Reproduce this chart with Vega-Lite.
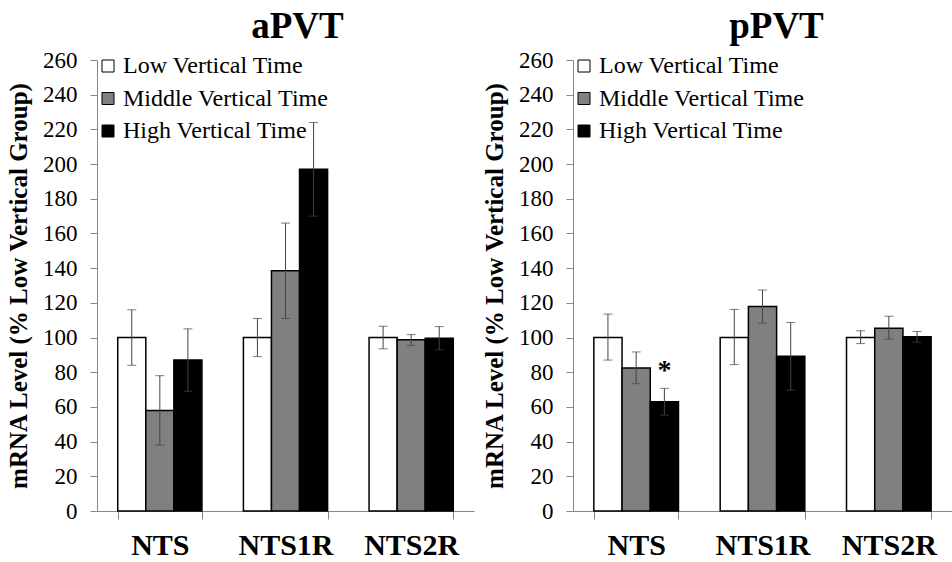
{
  "$schema": "https://vega.github.io/schema/vega-lite/v6.json",
  "padding": {"left": 6, "top": 8, "right": 0, "bottom": 0},
  "background": "white",
  "config": {
    "font": "Liberation Serif",
    "view": {"stroke": null},
    "concat": {"spacing": 8},
    "axisY": {"labelOverlap": false, "grid": false, "tickSize": 7, "tickColor": "#888888", "domainColor": "#888888", "labelPadding": 13, "labelFont": "Liberation Serif", "labelFontSize": 23, "labelColor": "black", "titleFont": "Liberation Serif", "titleFontSize": 25, "titleFontWeight": "bold", "titleColor": "black", "titlePadding": 11},
    "axisX": {"labelAngle": 0, "labelFont": "Liberation Serif", "labelFontSize": 30, "labelFontWeight": "bold", "labelColor": "black", "tickBand": "extent", "tickSize": 8, "tickColor": "#888888", "domainColor": "#888888", "labelPadding": 11, "grid": false},
    "legend": {"labelFont": "Liberation Serif", "labelFontSize": 24, "labelColor": "black", "labelLimit": 400, "symbolType": "square", "symbolSize": 144, "symbolStrokeColor": "black", "symbolStrokeWidth": 1, "rowPadding": 8.5, "labelOffset": 3, "padding": 0}
  },
  "datasets": {
    "bars": [
      {"panel": "aPVT", "region": "NTS", "group": "Low Vertical Time", "value": 100, "lo": 84, "hi": 116, "sig": ""},
      {"panel": "aPVT", "region": "NTS", "group": "Middle Vertical Time", "value": 58, "lo": 38, "hi": 78, "sig": ""},
      {"panel": "aPVT", "region": "NTS", "group": "High Vertical Time", "value": 87, "lo": 69, "hi": 105, "sig": ""},
      {"panel": "aPVT", "region": "NTS1R", "group": "Low Vertical Time", "value": 100, "lo": 89, "hi": 111, "sig": ""},
      {"panel": "aPVT", "region": "NTS1R", "group": "Middle Vertical Time", "value": 138.5, "lo": 111, "hi": 166, "sig": ""},
      {"panel": "aPVT", "region": "NTS1R", "group": "High Vertical Time", "value": 197, "lo": 170, "hi": 224, "sig": ""},
      {"panel": "aPVT", "region": "NTS2R", "group": "Low Vertical Time", "value": 100, "lo": 93.5, "hi": 106.5, "sig": ""},
      {"panel": "aPVT", "region": "NTS2R", "group": "Middle Vertical Time", "value": 98.7, "lo": 95.5, "hi": 101.7, "sig": ""},
      {"panel": "aPVT", "region": "NTS2R", "group": "High Vertical Time", "value": 99.6, "lo": 93, "hi": 106.3, "sig": ""},
      {"panel": "pPVT", "region": "NTS", "group": "Low Vertical Time", "value": 100, "lo": 87, "hi": 113.5, "sig": ""},
      {"panel": "pPVT", "region": "NTS", "group": "Middle Vertical Time", "value": 82.5, "lo": 73.4, "hi": 91.7, "sig": ""},
      {"panel": "pPVT", "region": "NTS", "group": "High Vertical Time", "value": 63, "lo": 55.3, "hi": 70.7, "sig": "*"},
      {"panel": "pPVT", "region": "NTS1R", "group": "Low Vertical Time", "value": 100, "lo": 84.4, "hi": 116.2, "sig": ""},
      {"panel": "pPVT", "region": "NTS1R", "group": "Middle Vertical Time", "value": 117.9, "lo": 108.3, "hi": 127.4, "sig": ""},
      {"panel": "pPVT", "region": "NTS1R", "group": "High Vertical Time", "value": 89.2, "lo": 69.7, "hi": 108.7, "sig": ""},
      {"panel": "pPVT", "region": "NTS2R", "group": "Low Vertical Time", "value": 100, "lo": 96.5, "hi": 103.9, "sig": ""},
      {"panel": "pPVT", "region": "NTS2R", "group": "Middle Vertical Time", "value": 105.4, "lo": 99, "hi": 112.3, "sig": ""},
      {"panel": "pPVT", "region": "NTS2R", "group": "High Vertical Time", "value": 100.4, "lo": 97.3, "hi": 103.5, "sig": ""}
    ]
  },
  "hconcat": [
    {
      "width": 377,
      "height": 451,
      "title": {"text": "aPVT", "font": "Liberation Serif", "fontSize": 37, "fontWeight": "bold", "color": "black", "anchor": "middle", "dx": 12, "offset": 3},
      "data": {"name": "bars"},
      "transform": [{"filter": "datum.panel === 'aPVT'"}],
      "encoding": {
        "x": {"field": "region", "type": "nominal", "sort": ["NTS", "NTS1R", "NTS2R"], "title": null,
          "scale": {"paddingInner": 0.33, "paddingOuter": 0.165}},
        "xOffset": {"field": "group", "type": "nominal", "sort": ["Low Vertical Time", "Middle Vertical Time", "High Vertical Time"], "scale": {"paddingInner": 0, "paddingOuter": 0}}
      },
      "layer": [
        {
          "mark": {"type": "bar", "stroke": "black", "strokeWidth": 1.5},
          "encoding": {
            "y": {"field": "value", "type": "quantitative", "title": "mRNA Level (% Low Vertical Group)",
              "scale": {"domain": [0, 260], "nice": false},
              "axis": {"values": [0, 20, 40, 60, 80, 100, 120, 140, 160, 180, 200, 220, 240, 260], "labelOverlap": false}},
            "fill": {"field": "group", "type": "nominal", "sort": ["Low Vertical Time", "Middle Vertical Time", "High Vertical Time"],
              "scale": {"domain": ["Low Vertical Time", "Middle Vertical Time", "High Vertical Time"], "range": ["white", "#808080", "black"]},
              "legend": {"orient": "none", "legendX": -1, "legendY": -6, "title": null}}
          }
        },
        {
          "mark": {"type": "rule", "color": "#444444", "strokeWidth": 1},
          "encoding": {"y": {"field": "lo", "type": "quantitative", "title": "mRNA Level (% Low Vertical Group)", "axis": {"values": [0, 20, 40, 60, 80, 100, 120, 140, 160, 180, 200, 220, 240, 260], "labelOverlap": false}}, "y2": {"field": "hi"}}
        },
        {
          "mark": {"type": "tick", "color": "#444444", "size": 9, "thickness": 1},
          "encoding": {"y": {"field": "lo", "type": "quantitative", "title": "mRNA Level (% Low Vertical Group)", "axis": {"values": [0, 20, 40, 60, 80, 100, 120, 140, 160, 180, 200, 220, 240, 260], "labelOverlap": false}}}
        },
        {
          "mark": {"type": "tick", "color": "#444444", "size": 9, "thickness": 1},
          "encoding": {"y": {"field": "hi", "type": "quantitative", "title": "mRNA Level (% Low Vertical Group)", "axis": {"values": [0, 20, 40, 60, 80, 100, 120, 140, 160, 180, 200, 220, 240, 260], "labelOverlap": false}}}
        }
      ]
    },
    {
      "width": 379,
      "height": 451,
      "title": {"text": "pPVT", "font": "Liberation Serif", "fontSize": 37, "fontWeight": "bold", "color": "black", "anchor": "middle", "dx": 14, "offset": 3},
      "data": {"name": "bars"},
      "transform": [{"filter": "datum.panel === 'pPVT'"}],
      "encoding": {
        "x": {"field": "region", "type": "nominal", "sort": ["NTS", "NTS1R", "NTS2R"], "title": null,
          "scale": {"paddingInner": 0.33, "paddingOuter": 0.165}},
        "xOffset": {"field": "group", "type": "nominal", "sort": ["Low Vertical Time", "Middle Vertical Time", "High Vertical Time"], "scale": {"paddingInner": 0, "paddingOuter": 0}}
      },
      "layer": [
        {
          "mark": {"type": "bar", "stroke": "black", "strokeWidth": 1.5},
          "encoding": {
            "y": {"field": "value", "type": "quantitative", "title": "mRNA Level (% Low Vertical Group)",
              "scale": {"domain": [0, 260], "nice": false},
              "axis": {"values": [0, 20, 40, 60, 80, 100, 120, 140, 160, 180, 200, 220, 240, 260], "labelOverlap": false}},
            "fill": {"field": "group", "type": "nominal", "sort": ["Low Vertical Time", "Middle Vertical Time", "High Vertical Time"],
              "scale": {"domain": ["Low Vertical Time", "Middle Vertical Time", "High Vertical Time"], "range": ["white", "#808080", "black"]},
              "legend": {"orient": "none", "legendX": -1, "legendY": -6, "title": null}}
          }
        },
        {
          "mark": {"type": "rule", "color": "#444444", "strokeWidth": 1},
          "encoding": {"y": {"field": "lo", "type": "quantitative", "title": "mRNA Level (% Low Vertical Group)", "axis": {"values": [0, 20, 40, 60, 80, 100, 120, 140, 160, 180, 200, 220, 240, 260], "labelOverlap": false}}, "y2": {"field": "hi"}}
        },
        {
          "mark": {"type": "tick", "color": "#444444", "size": 9, "thickness": 1},
          "encoding": {"y": {"field": "lo", "type": "quantitative", "title": "mRNA Level (% Low Vertical Group)", "axis": {"values": [0, 20, 40, 60, 80, 100, 120, 140, 160, 180, 200, 220, 240, 260], "labelOverlap": false}}}
        },
        {
          "mark": {"type": "tick", "color": "#444444", "size": 9, "thickness": 1},
          "encoding": {"y": {"field": "hi", "type": "quantitative", "title": "mRNA Level (% Low Vertical Group)", "axis": {"values": [0, 20, 40, 60, 80, 100, 120, 140, 160, 180, 200, 220, 240, 260], "labelOverlap": false}}}
        },
        {
          "transform": [{"filter": "datum.sig !== ''"}],
          "mark": {"type": "text", "font": "Liberation Serif", "fontSize": 28, "fontWeight": "bold", "color": "black", "baseline": "alphabetic", "align": "center", "dy": -9},
          "encoding": {"y": {"field": "hi", "type": "quantitative", "title": "mRNA Level (% Low Vertical Group)", "axis": {"values": [0, 20, 40, 60, 80, 100, 120, 140, 160, 180, 200, 220, 240, 260], "labelOverlap": false}}, "text": {"field": "sig"}}
        }
      ]
    }
  ],
  "resolve": {"legend": {"fill": "independent"}, "scale": {"x": "independent", "y": "independent", "fill": "independent", "xOffset": "independent"}}
}
